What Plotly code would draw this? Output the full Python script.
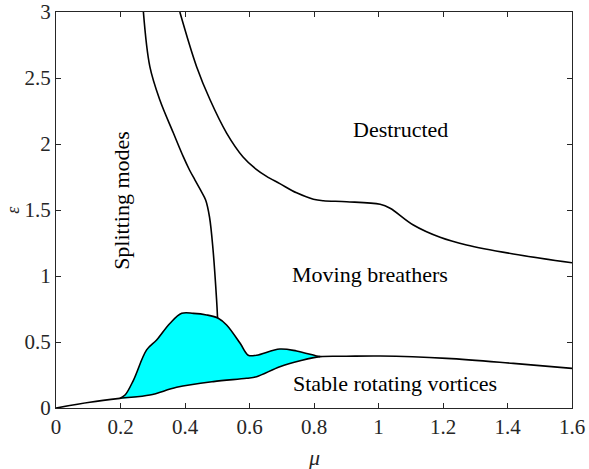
import plotly.graph_objects as go

# Boundary: splitting modes / moving breathers
split_mu = [0.271, 0.291, 0.322, 0.364, 0.395, 0.414, 0.431, 0.448, 0.464, 0.476, 0.487,
            0.498, 0.501]
split_eps = [3.0, 2.586, 2.333, 2.083, 1.902, 1.803, 1.727, 1.652, 1.576, 1.447, 1.197,
             0.818, 0.682]

# Boundary: destructed / moving breathers
destr_mu = [0.384, 0.436, 0.478, 0.529, 0.580, 0.62, 0.653, 0.694, 0.746, 0.798, 0.829,
            0.901, 1.005, 1.036, 1.108, 1.191, 1.273, 1.418, 1.6]
destr_eps = [3.0, 2.586, 2.333, 2.083, 1.902, 1.81, 1.755, 1.70, 1.63, 1.582, 1.57,
             1.563, 1.543, 1.513, 1.386, 1.293, 1.235, 1.167, 1.10]

# Upper boundary of the cyan region
cyan_mu = [0.198, 0.214, 0.24, 0.281, 0.312, 0.353, 0.39, 0.426, 0.467, 0.503, 0.529,
           0.571, 0.596, 0.622, 0.694, 0.746, 0.808, 0.819]
cyan_eps = [0.073, 0.098, 0.21, 0.44, 0.515, 0.64, 0.717, 0.717, 0.705, 0.68, 0.629,
            0.49, 0.40, 0.40, 0.447, 0.432, 0.394, 0.389]

# Stable rotating vortices boundary
stable_mu = [0.0, 0.105, 0.198, 0.291, 0.374, 0.488, 0.591, 0.622, 0.694, 0.757, 0.819,
             0.9, 1.005, 1.211, 1.418, 1.6]
stable_eps = [0.0, 0.043, 0.073, 0.098, 0.157, 0.20, 0.225, 0.237, 0.313, 0.358, 0.389,
              0.392, 0.394, 0.376, 0.338, 0.30]

x_ticks = [0, 0.2, 0.4, 0.6, 0.8, 1, 1.2, 1.4, 1.6]
x_tick_text = ["0", "0.2", "0.4", "0.6", "0.8", "1", "1.2", "1.4", "1.6"]
y_ticks = [0, 0.5, 1, 1.5, 2, 2.5, 3]
y_tick_text = ["0", "0.5", "1", "1.5", "2", "2.5", "3"]

FONT = "Liberation Serif, DejaVu Serif, serif"

# closed polygon for the filled region
low_mu = [m for m in stable_mu if cyan_mu[0] <= m <= cyan_mu[-1]]
low_eps = [e for m, e in zip(stable_mu, stable_eps) if cyan_mu[0] <= m <= cyan_mu[-1]]
poly_mu = cyan_mu + low_mu[::-1]
poly_eps = cyan_eps + low_eps[::-1]

SM = 1.0
fig = go.Figure()
fig.add_trace(go.Scatter(x=poly_mu, y=poly_eps, mode="lines", fill="toself",
                         fillcolor="#00FFFF", line=dict(color="rgba(0,0,0,0)", width=0,
                                                        shape="spline", smoothing=SM),
                         hoverinfo="skip", showlegend=False))
line_style = dict(color="black", width=1.6, shape="spline", smoothing=SM)
for xs, ys in [(split_mu, split_eps), (destr_mu, destr_eps),
               (cyan_mu, cyan_eps), (stable_mu, stable_eps)]:
    fig.add_trace(go.Scatter(x=xs, y=ys, mode="lines", line=line_style,
                             showlegend=False, hoverinfo="skip"))

ann_font = dict(family=FONT, size=22, color="black")
fig.add_annotation(x=1.067, y=2.11, text="Destructed", showarrow=False, font=ann_font)
fig.add_annotation(x=0.974, y=1.01, text="Moving breathers", showarrow=False, font=ann_font)
fig.add_annotation(x=1.05, y=0.185, text="Stable rotating vortices", showarrow=False, font=ann_font)
fig.add_annotation(x=0.205, y=1.57, text="Splitting modes", showarrow=False, font=ann_font,
                   textangle=-90)

# axis titles placed in paper coordinates
fig.add_annotation(x=0.5, y=-0.125, xref="paper", yref="paper",
                   xanchor="center", yanchor="middle",
                   text="<i>μ</i>", showarrow=False,
                   font=dict(family=FONT, size=22, color="#262626"))
fig.add_annotation(x=-0.084, y=0.5, xref="paper", yref="paper",
                   xanchor="center", yanchor="middle",
                   text="<i>ε</i>", showarrow=False, textangle=-90,
                   font=dict(family=FONT, size=18, color="#262626"))

axis_common = dict(showgrid=False, zeroline=False, showline=True, linecolor="#262626",
                   linewidth=1.3, mirror="ticks", ticks="inside", ticklen=5,
                   tickcolor="#262626", tickwidth=1.3, automargin=False,
                   tickfont=dict(family=FONT, size=21, color="#262626"))

fig.update_layout(
    width=589, height=469,
    margin=dict(l=56, r=17, t=12, b=61),
    paper_bgcolor="white", plot_bgcolor="white",
    xaxis=dict(range=[0, 1.6], tickvals=x_ticks, ticktext=x_tick_text, **axis_common),
    yaxis=dict(range=[0, 3], tickvals=y_ticks, ticktext=y_tick_text, **axis_common),
)

fig.write_html("out.html")
